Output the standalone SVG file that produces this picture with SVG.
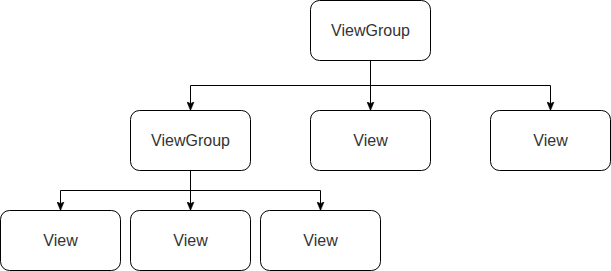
<svg xmlns="http://www.w3.org/2000/svg" width="611" height="271" viewBox="0 0 611 271">
  <style>
    .box { fill: #ffffff; stroke: #000000; stroke-width: 1; }
    .lbl { font-family: "Liberation Sans", Arial, Helvetica, sans-serif; font-size: 16px; fill: #333333; text-anchor: middle; }
    .edge { fill: none; stroke: #000000; stroke-width: 1; }
  </style>
  <defs>
    <!-- classic block arrowhead with a small notch at the back -->
    <marker id="arrow" viewBox="0 0 9 8" refX="9" refY="4" markerWidth="9" markerHeight="8" markerUnits="userSpaceOnUse" orient="auto">
      <path d="M 0 0.3 L 9 4 L 0 7.7 L 2.2 4 Z" fill="#000000" stroke="#000000" stroke-width="0.5"/>
    </marker>
  </defs>
  <rect width="611" height="271" fill="#ffffff"/>

  <g id="connectors">
    <path class="edge" d="M 370.5 60.5 L 370.5 85.5 L 190.5 85.5 L 190.5 110.5" marker-end="url(#arrow)"/>
    <path class="edge" d="M 370.5 60.5 L 370.5 110.5" marker-end="url(#arrow)"/>
    <path class="edge" d="M 370.5 85.5 L 550.5 85.5 L 550.5 110.5" marker-end="url(#arrow)"/>
    <path class="edge" d="M 190.5 170.5 L 190.5 190.5 L 60.5 190.5 L 60.5 210.5" marker-end="url(#arrow)"/>
    <path class="edge" d="M 190.5 170.5 L 190.5 210.5" marker-end="url(#arrow)"/>
    <path class="edge" d="M 190.5 190.5 L 320.5 190.5 L 320.5 210.5" marker-end="url(#arrow)"/>
  </g>

  <g id="root-viewgroup">
    <rect class="box" x="310.5" y="0.5" width="120" height="60" rx="9" ry="9"/>
    <text class="lbl" x="370.5" y="36">ViewGroup</text>
  </g>
  <g id="child-viewgroup">
    <rect class="box" x="130.5" y="110.5" width="120" height="60" rx="9" ry="9"/>
    <text class="lbl" x="190.5" y="146">ViewGroup</text>
  </g>
  <g id="view-mid">
    <rect class="box" x="310.5" y="110.5" width="120" height="60" rx="9" ry="9"/>
    <text class="lbl" x="370.5" y="146">View</text>
  </g>
  <g id="view-right">
    <rect class="box" x="490.5" y="110.5" width="120" height="60" rx="9" ry="9"/>
    <text class="lbl" x="550.5" y="146">View</text>
  </g>
  <g id="view-bottom-1">
    <rect class="box" x="0.5" y="210.5" width="120" height="60" rx="9" ry="9"/>
    <text class="lbl" x="60.5" y="246">View</text>
  </g>
  <g id="view-bottom-2">
    <rect class="box" x="130.5" y="210.5" width="120" height="60" rx="9" ry="9"/>
    <text class="lbl" x="190.5" y="246">View</text>
  </g>
  <g id="view-bottom-3">
    <rect class="box" x="260.5" y="210.5" width="120" height="60" rx="9" ry="9"/>
    <text class="lbl" x="320.5" y="246">View</text>
  </g>
</svg>
